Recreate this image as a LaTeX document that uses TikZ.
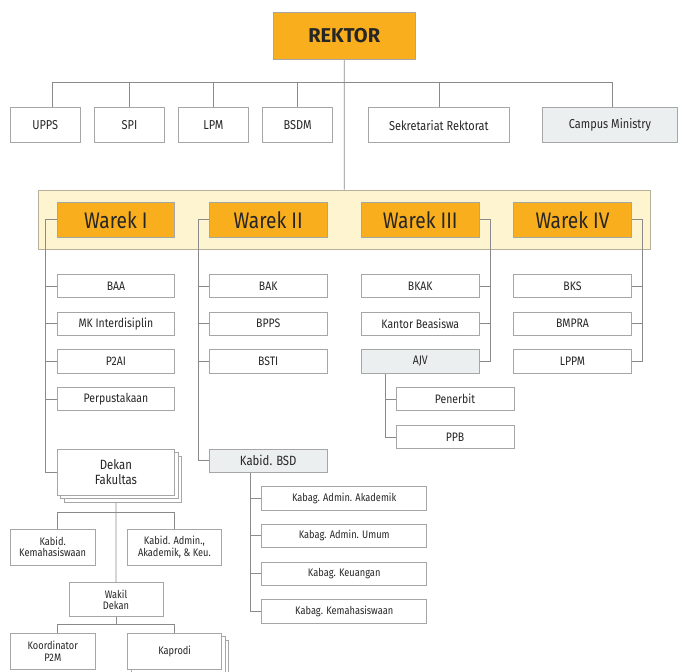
\documentclass[tikz,border=0pt]{standalone}
\usepackage{fontspec}
\setmainfont{Fira Sans}
\newfontfamily\condfont{Fira Sans}[FakeStretch=0.85]
\usetikzlibrary{shadows}
\definecolor{rekorange}{HTML}{F9AE1D}
\definecolor{bandfill}{HTML}{FEF4D0}
\definecolor{bandline}{HTML}{B5B09C}
\definecolor{boxline}{HTML}{A6A6A6}
\definecolor{wireline}{HTML}{8A8A8A}
\definecolor{palegray}{HTML}{ECEFF0}
\definecolor{txt}{HTML}{262626}
\pgfdeclarelayer{back}
\pgfdeclarelayer{wires}
\pgfsetlayers{back,wires,main}
\tikzset{
  box/.style={draw=boxline, fill=white, line width=0.9pt, inner sep=0pt,
    align=center, text=txt, font=\condfont\fontsize{12.3}{13}\selectfont,
    minimum width=117.7pt, minimum height=23.5pt},
  topbox/.style={box, font=\condfont\fontsize{12.9}{14}\selectfont, minimum height=35pt},
  warek/.style={box, fill=rekorange, font=\condfont\fontsize{22.5}{24}\selectfont, minimum height=35pt},
  kabag/.style={box, font=\condfont\fontsize{10.9}{12}\selectfont, minimum width=165pt},
  small/.style={box, font=\condfont\fontsize{10.9}{11.2}\selectfont, minimum height=35.7pt},
  pale/.style={fill=palegray},
  stack/.style={double copy shadow={shadow xshift=3.5pt, shadow yshift=-3.5pt}},
  wire/.style={draw=wireline, line width=0.8pt}
}
\begin{document}
\begin{tikzpicture}[x=1pt, y=-1pt]
\useasboundingbox (0,0) rectangle (678,672);
\clip (0,0) rectangle (678,672);

% rector and the units directly under the rector
\node[box, fill=rekorange, font=\fontsize{20}{24}\selectfont\bfseries,
  minimum width=141.7pt, minimum height=47pt] (rektor) at (344.2,35.8) {REKTOR};
\node[topbox, minimum width=70.3pt] (upps) at (45.2,125.2) {UPPS};
\node[topbox, minimum width=70.4pt] (spi) at (129.5,125.2) {SPI};
\node[topbox, minimum width=70.4pt] (lpm) at (213.5,125.2) {LPM};
\node[topbox, minimum width=70pt] (bsdm) at (297.7,125.2) {BSDM};
\node[topbox, minimum width=141.7pt] (sekr) at (438.9,125.2) {Sekretariat Rektorat};
\node[topbox, pale, minimum width=134.6pt] (campus) at (610,125.2) {Campus Ministry};

% vice rectors on their band
\node[warek] (w1) at (115.9,219.8) {Warek I};
\node[warek] (w2) at (268.2,219.8) {Warek II};
\node[warek] (w3) at (420.3,219.8) {Warek III};
\node[warek] (w4) at (572.5,219.8) {Warek IV};
\begin{pgfonlayer}{back}
  \node[draw=bandline, fill=bandfill, line width=0.9pt, minimum width=611.7pt,
    minimum height=59.3pt, inner sep=0pt] (band) at (344.15,219.65) {};
\end{pgfonlayer}

% Warek I column
\node[box] (baa) at (115.9,286) {BAA};
\node[box] (mki) at (115.9,323.7) {MK Interdisiplin};
\node[box] (p2ai) at (115.9,361.3) {P2AI};
\node[box] (perp) at (115.9,399.1) {Perpustakaan};
% Warek II column
\node[box] (bak) at (268.2,286) {BAK};
\node[box] (bpps) at (268.2,323.7) {BPPS};
\node[box] (bsti) at (268.2,361.3) {BSTI};
% Warek III column
\node[box] (bkak) at (420.3,286) {BKAK};
\node[box] (kb) at (420.3,323.7) {Kantor Beasiswa};
\node[box, pale] (ajv) at (420.3,361.3) {AJV};
\node[box, minimum width=118pt] (penerbit) at (455,399.1) {Penerbit};
\node[box, minimum width=118pt] (ppb) at (455,437) {PPB};
% Warek IV column
\node[box] (bks) at (572.5,286) {BKS};
\node[box] (bmpra) at (572.5,323.7) {BMPRA};
\node[box] (lppm) at (572.5,361.3) {LPPM};

% Kabid. BSD and its sections
\node[box, pale, font=\condfont\fontsize{13.4}{14}\selectfont, minimum height=23.3pt] (bsd) at (268.2,460.7) {Kabid. BSD};
\node[kabag] (kg1) at (344.2,498.3) {Kabag. Admin. Akademik};
\node[kabag] (kg2) at (344.2,535.8) {Kabag. Admin. Umum};
\node[kabag] (kg3) at (344.2,573.7) {Kabag. Keuangan};
\node[kabag] (kg4) at (344.2,611.2) {Kabag. Kemahasiswaan};

% faculty structure
\node[box, stack, font=\condfont\fontsize{13.4}{14.5}\selectfont, minimum height=46pt] (dekan) at (115.9,472) {Dekan\\Fakultas};
\node[small, minimum width=85.3pt] (kem) at (52.7,547.2) {Kabid.\\Kemahasiswaan};
\node[small, minimum width=93.3pt] (adm) at (174.4,547.2) {Kabid. Admin.,\\Akademik, \& Keu.};
\node[small, minimum width=94pt, minimum height=34.4pt] (wakil) at (116,599.5) {Wakil\\Dekan};
\node[small, minimum width=85.7pt, minimum height=36pt] (koor) at (52.8,651.3) {Koordinator\\P2M};
\node[small, stack, minimum width=94pt, minimum height=36pt] (kap) at (174.7,651.3) {Kaprodi};

\begin{pgfonlayer}{wires}
  % rector level
  \draw[wire] (rektor.south) -- (band.north);
  \draw[wire] ([xshift=7.1pt]upps.north) -- ++(0,-24.4) -| ([xshift=2.7pt]campus.north);
  \foreach \n in {spi,lpm,bsdm,sekr} \draw[wire] (\n.north) -- ++(0,-24.4);
  % Warek I
  \draw[wire] (w1.west) -- ++(-10.9,0) |- (dekan.west);
  \foreach \n in {baa,mki,p2ai,perp} \draw[wire] (\n.west) -- ++(-10.9,0);
  % Warek II
  \draw[wire] (w2.west) -- ++(-10.6,0) |- (bsd.west);
  \foreach \n in {bak,bpps,bsti} \draw[wire] (\n.west) -- ++(-10.6,0);
  % Warek III
  \draw[wire] (w3.east) -- ++(10.7,0) |- (ajv.east);
  \foreach \n in {bkak,kb} \draw[wire] (\n.east) -- ++(10.7,0);
  \draw[wire] ([xshift=24pt]ajv.south west) |- (ppb.west);
  \draw[wire] (penerbit.west) -- ++(-10.7,0);
  % Warek IV
  \draw[wire] (w4.east) -- ++(10.6,0) |- (lppm.east);
  \foreach \n in {bks,bmpra} \draw[wire] (\n.east) -- ++(10.6,0);
  % Kabid. BSD
  \draw[wire] ([xshift=41.4pt]bsd.south west) |- (kg4.west);
  \foreach \n in {kg1,kg2,kg3} \draw[wire] (\n.west) -- ++(-11,0);
  % faculty
  \draw[wire] (dekan.south) -- (wakil.north);
  \draw[wire] ([xshift=5pt]kem.north) -- ++(0,-16.6) -| (adm.north);
  \draw[wire] (wakil.south) -- ++(0,8.3);
  \draw[wire] ([xshift=4.9pt]koor.north) -- ++(0,-8.3) -| ([xshift=-0.4pt]kap.north);
\end{pgfonlayer}
\end{tikzpicture}
\end{document}
